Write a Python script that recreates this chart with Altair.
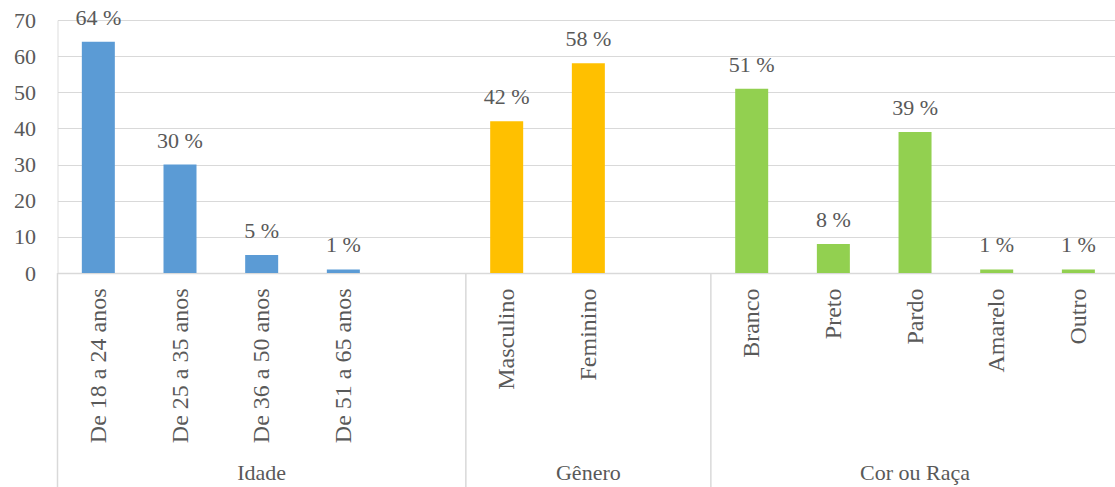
import altair as alt
import pandas as pd

# Survey profile: age, gender and colour/race, in percent
idade_labels = ["De 18 a 24 anos", "De 25 a 35 anos", "De 36 a 50 anos", "De 51 a 65 anos"]
idade_values = [64, 30, 5, 1]

genero_labels = ["Masculino", "Feminino"]
genero_values = [42, 58]

cor_labels = ["Branco", "Preto", "Pardo", "Amarelo", "Outro"]
cor_values = [51, 8, 39, 1, 1]

group_names = ["Idade", "Gênero", "Cor ou Raça"]
group_colors = ["#5B9BD5", "#FFC000", "#92D050"]

FONT = "'Liberation Serif', 'Times New Roman', Times, serif"
TEXT_COLOR = "#595959"
GRID_COLOR = "#D9D9D9"

# Lay the categories out in slots, leaving one empty slot after each group
groups = [
    (group_names[0], idade_labels, idade_values),
    (group_names[1], genero_labels, genero_values),
    (group_names[2], cor_labels, cor_values),
]
rows, slot_names, bounds = [], [], []
slot = 0
for gi, (gname, labels, values) in enumerate(groups):
    start = slot
    for lab, val in zip(labels, values):
        rows.append({"grupo": gname, "categoria": lab, "pos": slot + 0.5,
                     "valor": val, "rotulo": f"{val} %"})
        slot_names.append(lab)
        slot += 1
    if gi < len(groups) - 1:
        slot_names.append("")
        slot += 1
    bounds.append({"grupo": gname, "ini": start, "fim": slot,
                   "meio": (start + slot) / 2})

bars_df = pd.DataFrame(rows)
bounds_df = pd.DataFrame(bounds)

PLOT_W = 1057.5
PLOT_H = 253
SLOT_PX = 81.67
x_max = PLOT_W / SLOT_PX

label_array = "[" + ",".join("'" + s + "'" for s in slot_names) + "]"

x_scale = alt.Scale(domain=[0, x_max], nice=False, zero=False, padding=0)
y_scale = alt.Scale(domain=[0, 70], nice=False)

# One axis definition per direction, shared by every layer
x_axis = alt.Axis(
    values=list(bars_df["pos"]),
    labelExpr=label_array + "[floor(datum.value)]",
    labelAngle=-90, labelPadding=15, labelFont=FONT,
    labelFontSize=24, labelColor=TEXT_COLOR, labelOverlap=False,
    labelFlush=False, ticks=False, grid=False, title=None,
    domainColor=GRID_COLOR, domainWidth=1.5)
y_axis = alt.Axis(
    values=list(range(0, 71, 10)), grid=True,
    gridColor=GRID_COLOR, gridWidth=1.2, domain=False,
    ticks=False, labelPadding=22, labelFont=FONT,
    labelFontSize=22, labelColor=TEXT_COLOR,
    labelOverlap=False, labelFlush=False, title=None)

bars = alt.Chart(bars_df).mark_bar(size=33).encode(
    x=alt.X("pos:Q", scale=x_scale, axis=x_axis),
    y=alt.Y("valor:Q", scale=y_scale, axis=y_axis),
    color=alt.Color("grupo:N", scale=alt.Scale(domain=group_names, range=group_colors),
                    legend=None),
)

values_text = alt.Chart(bars_df).mark_text(
    font=FONT, fontSize=22, color=TEXT_COLOR, baseline="alphabetic", dy=-17
).encode(
    x=alt.X("pos:Q", scale=x_scale, axis=x_axis),
    y=alt.Y("valor:Q", scale=y_scale, axis=y_axis),
    text="rotulo:N",
)

# Vertical separators between the category groups, below the axis
separators = alt.Chart(bounds_df).mark_rule(
    color=GRID_COLOR, strokeWidth=1.5, clip=False
).encode(
    x=alt.X("ini:Q", scale=x_scale, axis=x_axis),
    y=alt.value(PLOT_H),
    y2=alt.value(PLOT_H + 214),
)

group_text = alt.Chart(bounds_df).mark_text(
    font=FONT, fontSize=22, color=TEXT_COLOR, baseline="alphabetic", clip=False
).encode(
    x=alt.X("meio:Q", scale=x_scale, axis=x_axis),
    y=alt.value(PLOT_H + 207),
    text="grupo:N",
)

chart = alt.layer(bars, values_text, separators, group_text).properties(
    width=PLOT_W,
    height=PLOT_H,
    autosize=alt.AutoSizeParams(type="none"),
    padding={"left": 57.5, "top": 20, "right": 0, "bottom": 214},
).configure_view(stroke=None).configure(background="white", font=FONT)

chart.save("out.html", embed_options={"renderer": "svg", "actions": False})
